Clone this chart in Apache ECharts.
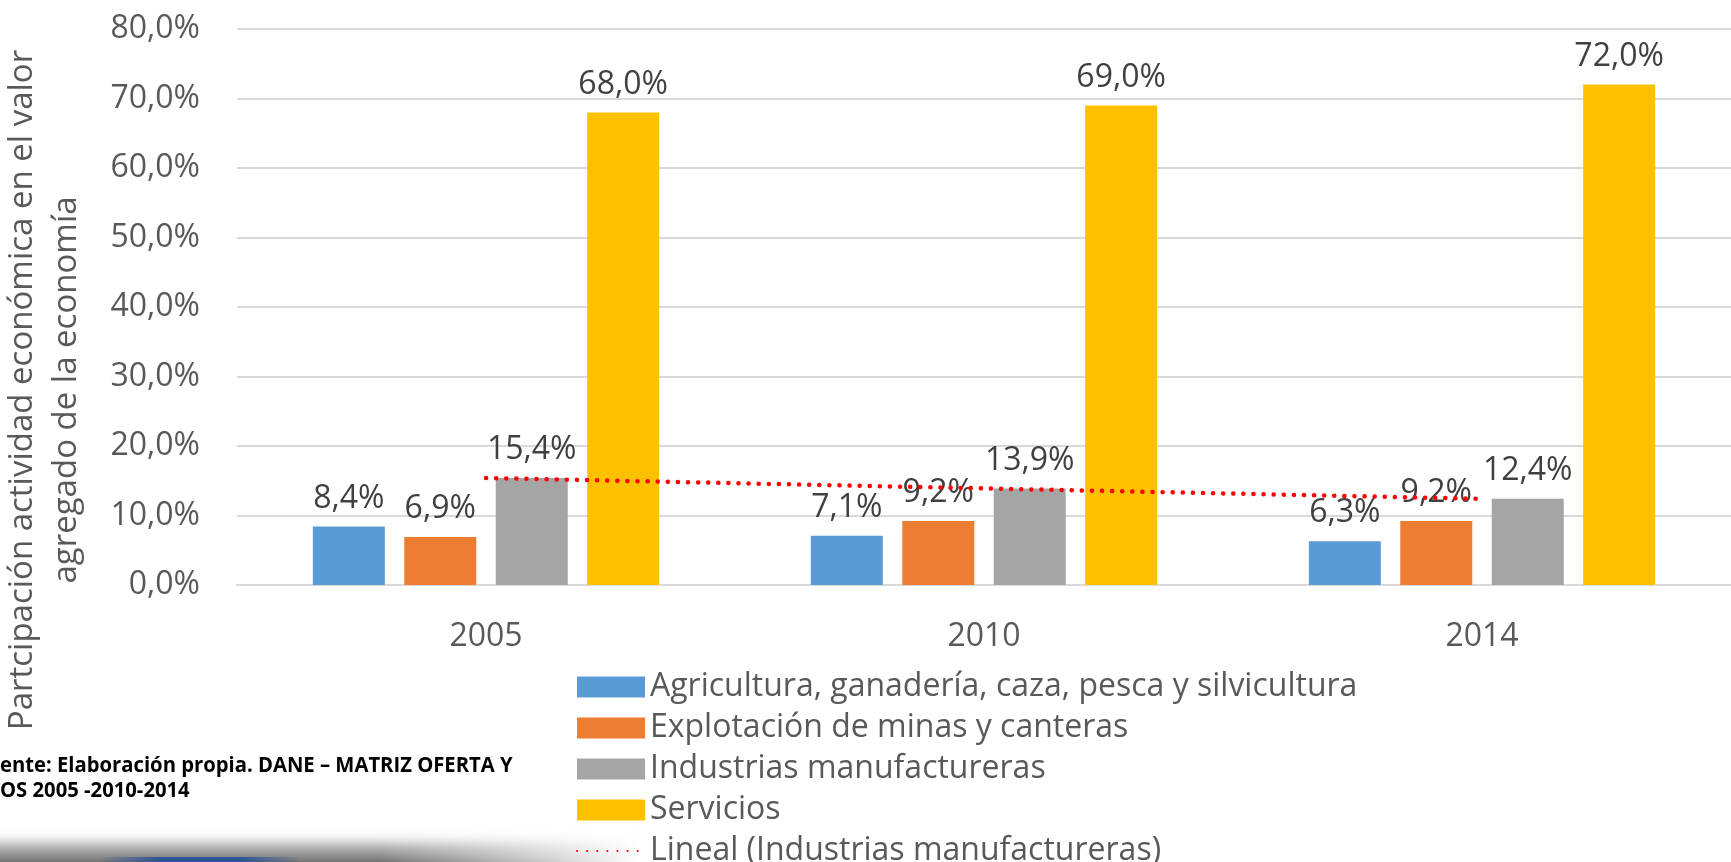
<!DOCTYPE html>
<html>
<head>
<meta charset="utf-8">
<script src="https://cdn.jsdelivr.net/npm/echarts@6/dist/echarts.min.js"></script>
<style>
  html, body { margin: 0; padding: 0; background: #fff; }
  #chart { width: 1731px; height: 862px; }
</style>
</head>
<body>
<div id="chart"></div>
<script>
  // datos
  const years = ['2005', '2010', '2014'];
  const agricultura = [8.4, 7.1, 6.3];
  const minas = [6.9, 9.2, 9.2];
  const industrias = [15.4, 13.9, 12.4];
  const servicios = [68.0, 69.0, 72.0];
  const linealIndustrias = [15.4, 13.9, 12.4];
  const yTicks = [0, 10, 20, 30, 40, 50, 60, 70, 80];

  const colors = ['#5B9BD5', '#ED7D31', '#A5A5A5', '#FFC000'];
  const font = "'Open Sans', 'Noto Sans', sans-serif";
  const pct = v => v.toFixed(1).replace('.', ',') + '%';

  const myChart = echarts.init(document.getElementById('chart'));

  const barLabel = {
    show: true,
    position: 'top',
    distance: 12,
    fontFamily: font,
    fontSize: 32,
    color: '#404040',
    formatter: p => pct(p.value)
  };

  function barSeries(name, data, color) {
    return {
      name: name,
      type: 'bar',
      data: data,
      barWidth: 72,
      barGap: '27%',
      itemStyle: { color: color },
      label: barLabel
    };
  }

  const option = {
    animation: false,
    grid: { left: 237, top: 29, width: 1507, height: 556 },
    legend: {
      orient: 'vertical',
      left: 571,
      top: 666,
      height: 240,
      itemWidth: 68,
      itemHeight: 21,
      itemGap: 9,
      textStyle: {
        fontFamily: font,
        fontSize: 32,
        lineHeight: 32,
        color: '#595959'
      },
      data: [
        { name: 'Agricultura, ganadería, caza, pesca y silvicultura', icon: 'rect' },
        { name: 'Explotación de minas y canteras', icon: 'rect' },
        { name: 'Industrias manufactureras', icon: 'rect' },
        { name: 'Servicios', icon: 'rect' },
        { name: 'Lineal (Industrias manufactureras)', itemStyle: { opacity: 0 } }
      ]
    },
    xAxis: {
      type: 'category',
      data: years,
      axisLine: { lineStyle: { color: '#d9d9d9', width: 2 } },
      axisTick: { show: false },
      axisLabel: { fontFamily: font, fontSize: 32, color: '#595959', margin: 36 }
    },
    yAxis: {
      type: 'value',
      min: yTicks[0],
      max: yTicks[yTicks.length - 1],
      interval: 10,
      axisLine: { show: false },
      axisTick: { show: false },
      splitLine: { lineStyle: { color: '#d9d9d9', width: 2 } },
      axisLabel: { fontFamily: font, fontSize: 32, color: '#595959', margin: 37, formatter: v => pct(v) }
    },
    series: [
      barSeries('Agricultura, ganadería, caza, pesca y silvicultura', agricultura, colors[0]),
      barSeries('Explotación de minas y canteras', minas, colors[1]),
      barSeries('Industrias manufactureras', industrias, colors[2]),
      barSeries('Servicios', servicios, colors[3]),
      {
        name: 'Lineal (Industrias manufactureras)',
        type: 'line',
        data: linealIndustrias,
        symbol: 'none',
        symbolSize: 0,
        z: 5,
        lineStyle: { color: '#FF0000', width: 4.5, type: [0.1, 10], cap: 'round' },
        itemStyle: { color: '#FF0000' }
      }
    ],
    graphic: [
      {
        type: 'text',
        x: 23, y: 390,
        rotation: Math.PI / 2,
        style: {
          text: 'Partcipación actividad económica en el valor',
          fontFamily: font, fontSize: 33, fill: '#595959',
          align: 'center', verticalAlign: 'middle'
        }
      },
      {
        type: 'text',
        x: 67, y: 390,
        rotation: Math.PI / 2,
        style: {
          text: 'agregado de la economía',
          fontFamily: font, fontSize: 33, fill: '#595959',
          align: 'center', verticalAlign: 'middle'
        }
      },
      {
        type: 'text',
        x: 0, y: 766,
        scaleX: 0.92,
        style: {
          text: 'ente: Elaboración propia. DANE – MATRIZ OFERTA Y',
          fontFamily: font,
          fontWeight: 'bold', fontSize: 22, fill: '#000',
          align: 'left', verticalAlign: 'middle'
        }
      },
      {
        type: 'text',
        x: 0, y: 791,
        scaleX: 0.92,
        style: {
          text: 'OS 2005 -2010-2014',
          fontFamily: font,
          fontWeight: 'bold', fontSize: 22, fill: '#000',
          align: 'left', verticalAlign: 'middle'
        }
      },
      // sombra decorativa abajo a la izquierda
      {
        type: 'rect',
        z: -2,
        shape: { x: 0, y: 828, width: 640, height: 34 },
        style: {
          fill: new echarts.graphic.LinearGradient(0, 0, 0, 1, [
            { offset: 0, color: 'rgba(255,255,255,0)' },
            { offset: 0.55, color: 'rgba(185,185,185,1)' },
            { offset: 1, color: 'rgba(115,115,115,1)' }
          ])
        }
      },
      {
        type: 'rect',
        z: -1,
        shape: { x: 380, y: 820, width: 260, height: 42 },
        style: {
          fill: new echarts.graphic.LinearGradient(0, 0, 1, 0, [
            { offset: 0, color: 'rgba(255,255,255,0)' },
            { offset: 1, color: 'rgba(255,255,255,1)' }
          ])
        }
      },
      {
        type: 'rect',
        shape: { x: 100, y: 857, width: 200, height: 5 },
        style: {
          fill: new echarts.graphic.LinearGradient(0, 0, 1, 0, [
            { offset: 0, color: 'rgba(47,85,151,0)' },
            { offset: 0.3, color: 'rgba(47,85,151,1)' },
            { offset: 0.7, color: 'rgba(47,85,151,1)' },
            { offset: 1, color: 'rgba(47,85,151,0)' }
          ])
        }
      }
    ]
  };

  myChart.setOption(option);
</script>
</body>
</html>
